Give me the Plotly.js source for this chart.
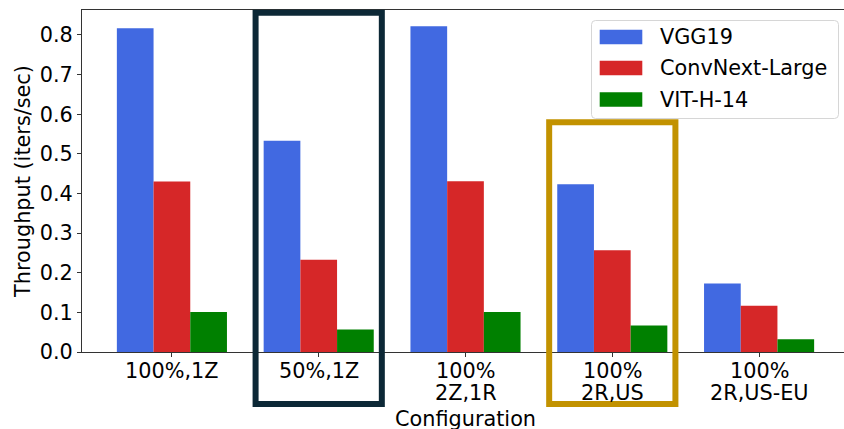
<!DOCTYPE html>
<html>
<head>
<meta charset="utf-8">
<script src="https://cdn.plot.ly/plotly-3.0.1.min.js"></script>
<style>
  html, body { margin: 0; padding: 0; overflow: hidden; background: #fff; }
  #chart { width: 849px; height: 429px; }
</style>
</head>
<body>
<div id="chart"></div>
<script>
// Throughput per deployment configuration for three models
const categories = ['100%,1Z', '50%,1Z', '100%\n2Z,1R', '100%\n2R,US', '100%\n2R,US-EU'];
const seriesNames = ['VGG19', 'ConvNext-Large', 'VIT-H-14'];
const vgg19 = [0.817, 0.533, 0.822, 0.423, 0.173];
const convnextLarge = [0.430, 0.233, 0.431, 0.257, 0.117];
const vitH14 = [0.101, 0.057, 0.101, 0.067, 0.032];
const seriesColors = ['#4169e1', '#d62728', '#008000'];

// highlighted configurations (category index), box tops in axis units
const highlightIndex = [1, 3];
const highlightTop = [0.856, 0.580];
const highlightColors = ['#0c2836', '#c29200'];

const FONT = 'DejaVu Sans, sans-serif';
const FS = 20.8;
const xRange = [-0.6125, 4.6125];
const yRange = [0, 0.863];

const seriesValues = [vgg19, convnextLarge, vitH14];
const traces = seriesValues.map((vals, k) => ({
  type: 'bar',
  name: seriesNames[k],
  x: categories,
  y: vals,
  marker: { color: seriesColors[k], line: { width: 0 } },
  showlegend: false,
  hoverinfo: 'x+y+name'
}));

const W = 849, H = 429;
const margin = { l: 82, r: 0, t: 10, b: 77, pad: 0 };
const plotW = W - margin.l - margin.r;
const plotH = H - margin.t - margin.b;

// axis units -> paper fractions
const px = v => (v - xRange[0]) / (xRange[1] - xRange[0]);
const py = v => (v - yRange[0]) / (yRange[1] - yRange[0]);
// pixels (from top-left of page) -> paper fractions
const ppx = p => (p - margin.l) / plotW;
const ppy = p => (H - margin.b - p) / plotH;

const shapes = [];
const annotations = [];

// category labels, one annotation per line for tight line spacing
const labelLineY = [370.5, 393.5];
categories.forEach(cat => {
  cat.split('\n').forEach((line, li) => {
    annotations.push({
      xref: 'x', yref: 'paper', x: cat, y: ppy(labelLineY[li]),
      xanchor: 'center', yanchor: 'middle', showarrow: false,
      text: line, font: { family: FONT, size: FS, color: '#000' }
    });
  });
});

// highlight boxes around selected configurations
highlightIndex.forEach((ci, k) => {
  shapes.push({
    type: 'rect', xref: 'paper', yref: 'paper', layer: 'above',
    x0: px(ci - 0.43), x1: px(ci + 0.43),
    y0: py(-0.131), y1: py(highlightTop[k]),
    line: { color: highlightColors[k], width: 6 },
    fillcolor: 'rgba(0,0,0,0)'
  });
});

// legend frame with rounded corners
const lx0 = ppx(591.5), lx1 = ppx(838.5), ly0 = ppy(118.5), ly1 = ppy(20.5);
const rx = 4 / plotW, ry = 4 / plotH;
shapes.push({
  type: 'path', xref: 'paper', yref: 'paper', layer: 'above',
  path: `M ${lx0 + rx},${ly1} L ${lx1 - rx},${ly1} Q ${lx1},${ly1} ${lx1},${ly1 - ry} ` +
        `L ${lx1},${ly0 + ry} Q ${lx1},${ly0} ${lx1 - rx},${ly0} L ${lx0 + rx},${ly0} ` +
        `Q ${lx0},${ly0} ${lx0},${ly0 + ry} L ${lx0},${ly1 - ry} Q ${lx0},${ly1} ${lx0 + rx},${ly1} Z`,
  line: { color: '#d6d6d6', width: 1 },
  fillcolor: 'rgba(255,255,255,0.8)'
});
const rowY = [37, 68, 99.5];
seriesNames.forEach((name, k) => {
  shapes.push({
    type: 'rect', xref: 'paper', yref: 'paper', layer: 'above',
    x0: ppx(599.7), x1: ppx(642.3),
    y0: ppy(rowY[k] + 7.2), y1: ppy(rowY[k] - 7.2),
    line: { width: 0 }, fillcolor: seriesColors[k]
  });
  annotations.push({
    xref: 'paper', yref: 'paper', x: ppx(657.5), y: ppy(rowY[k]),
    xanchor: 'left', yanchor: 'middle', showarrow: false,
    text: name, font: { family: FONT, size: FS, color: '#000' }
  });
});

// x-axis title
annotations.push({
  xref: 'paper', yref: 'paper', x: 0.5, y: ppy(419),
  xanchor: 'center', yanchor: 'middle', showarrow: false,
  text: 'Configuration', font: { family: FONT, size: FS, color: '#000' }
});

const layout = {
  width: W, height: H,
  margin: margin,
  paper_bgcolor: '#fff', plot_bgcolor: '#fff',
  font: { family: FONT, size: FS, color: '#000' },
  barmode: 'group', bargap: 0.25, bargroupgap: 0,
  showlegend: false,
  xaxis: {
    type: 'category', range: xRange,
    showgrid: false, zeroline: false, showticklabels: false,
    showline: true, mirror: true, linecolor: '#333', linewidth: 1,
    ticks: 'outside', ticklen: 4, tickwidth: 1, tickcolor: '#333'
  },
  yaxis: {
    range: yRange, dtick: 0.1, tick0: 0, tickformat: '.1f',
    showgrid: false, zeroline: false,
    showline: true, linecolor: '#333', linewidth: 1,
    ticks: 'outside', ticklen: 4, tickwidth: 1, tickcolor: '#333',
    tickfont: { family: FONT, size: FS, color: '#000' },
    title: { text: 'Throughput (iters/sec)', font: { family: FONT, size: FS, color: '#000' }, standoff: 3 }
  },
  shapes: shapes,
  annotations: annotations
};

Plotly.newPlot('chart', traces, layout, { displayModeBar: false, staticPlot: true });
</script>
</body>
</html>
